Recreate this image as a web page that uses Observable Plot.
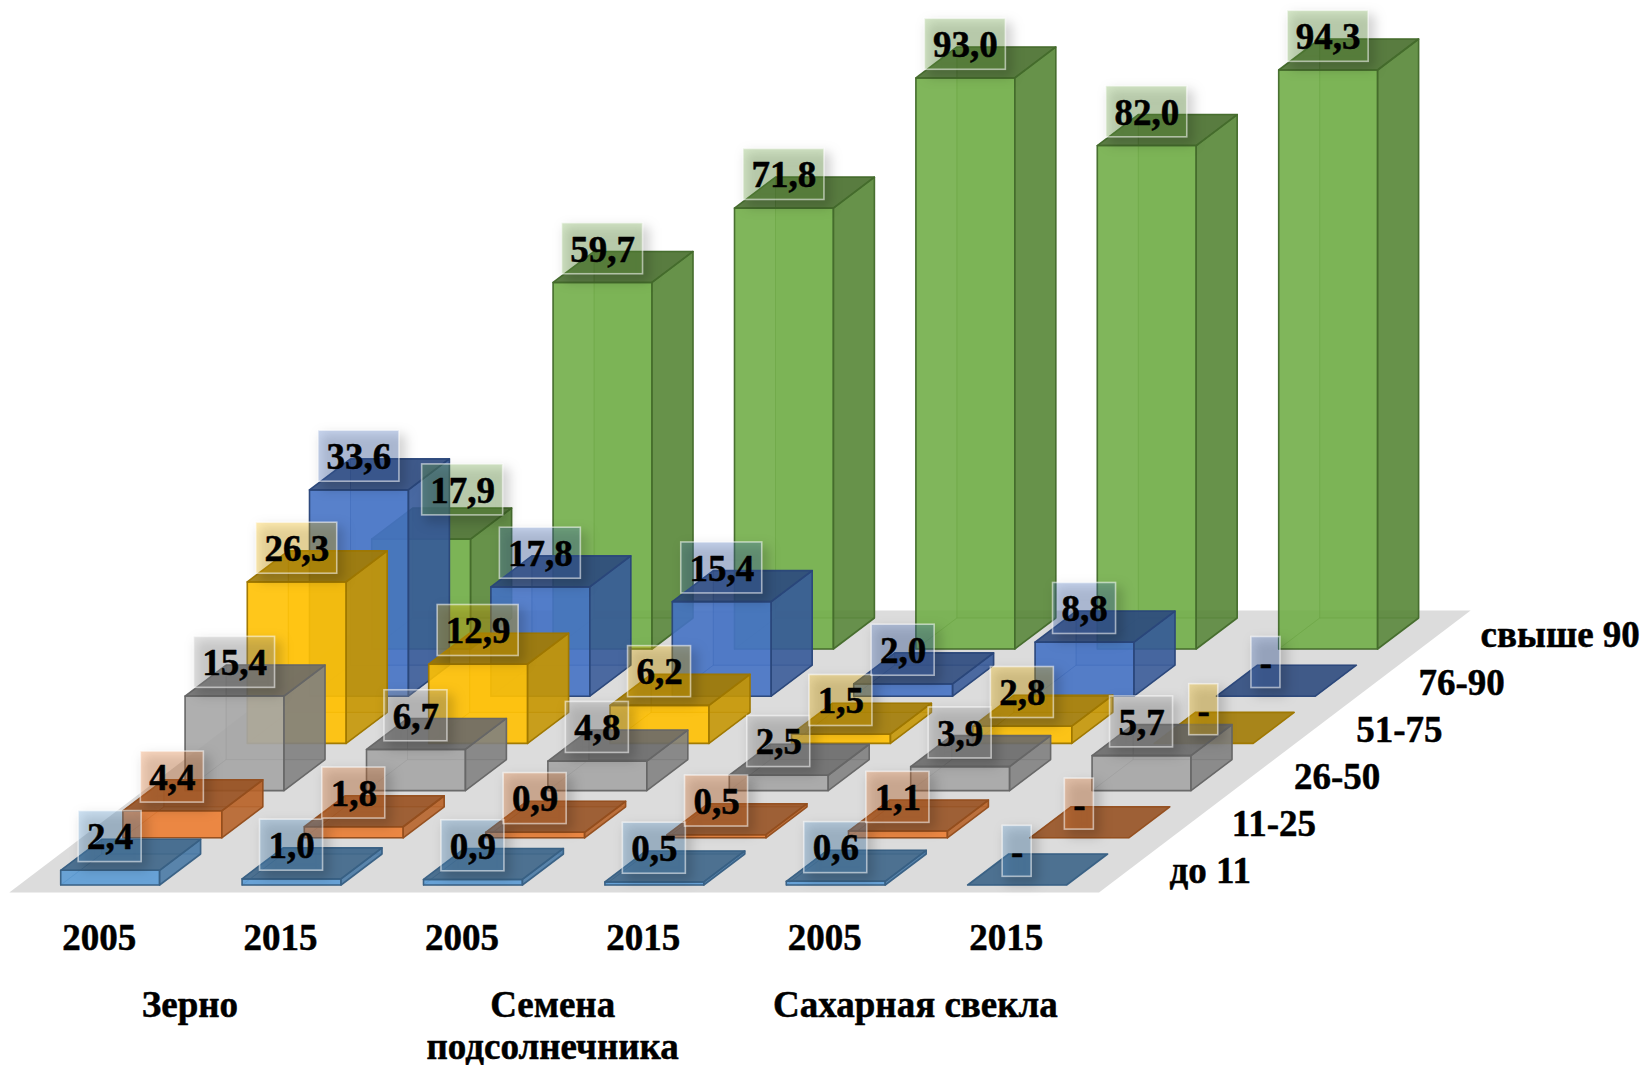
<!DOCTYPE html>
<html lang="ru">
<head>
<meta charset="utf-8">
<style>
html,body{margin:0;padding:0;background:#fff}
svg{display:block}
g[aria-label="rect"] rect{filter:drop-shadow(5px 6px 6px rgba(0,0,0,.55))}
</style>
<script src="https://cdn.jsdelivr.net/npm/d3@7"></script>
<script src="https://cdn.jsdelivr.net/npm/@observablehq/plot@0.6"></script>
</head>
<body>
<div id="chart"></div>
<script>
const years = ["2005","2015","2005","2015","2005","2015"];
const groups = ["Зерно","Семена\nподсолнечника","Сахарная свекла"];
const seriesNames = ["до 11","11-25","26-50","51-75","76-90","свыше 90"];
const seriesColors = ["#5b9bd5","#ed7d31","#a5a5a5","#ffc000","#4472c4","#70ad47"];
const upTo11  = [2.4,1.0,0.9,0.5,0.6,null];
const s11to25 = [4.4,1.8,0.9,0.5,1.1,null];
const s26to50 = [15.4,6.7,4.8,2.5,3.9,5.7];
const s51to75 = [26.3,12.9,6.2,1.5,2.8,null];
const s76to90 = [33.6,17.8,15.4,2.0,8.8,null];
const over90  = [17.9,59.7,71.8,93.0,82.0,94.3];
const seriesValues = [upTo11,s11to25,s26to50,s51to75,s76to90,over90];

// Oblique projection, in chart units: x = category steps, y = percentage points.
const PX_U = 181.4, PX_V = 6.14, ORIGIN_X = 60.2, ORIGIN_Y = 884.5;
const SX = 62.2/PX_U, SY = 47.2/PX_V;   // shift per series
const W = 98.9/PX_U;                    // bar width
const DX = 41/PX_U, DY = 31/PX_V;       // bar depth

const shade = (c,f) => { const r = d3.rgb(c); return d3.rgb(r.r*f,r.g*f,r.b*f).formatHex(); };
const rows = [];
let fid = 0;
function face(pts, fill, fo, stroke, so, sw) {
  const id = fid++;
  [...pts, pts[0]].forEach(([x,y]) => rows.push({id,x,y,fill,fo,stroke,so,sw}));
}

// floor
{
  const l = (8.8-ORIGIN_X)/PX_U, r = (1098.5-ORIGIN_X)/PX_U, b = -7.5/PX_V, d = 282/PX_V, dx = d*SX/SY;
  face([[l,b],[r,b],[r+dx,b+d],[l+dx,b+d]],"#dcdcdc",1,"none",0,0);
}

// bars, far series first
for (let s = 5; s >= 0; s--) {
  const c = seriesColors[s];
  seriesValues[s].forEach((val,i) => {
    const v = val ?? 0;
    const x0 = i + s*SX, y0 = s*SY, x1 = x0+W, y1 = y0+v;
    const edge = shade(c,.62);
    if (v > 0) {
      face([[x0+DX,y0+DY],[x1+DX,y0+DY],[x1+DX,y1+DY],[x0+DX,y1+DY]],c,.4,edge,.4,1);    // back
      face([[x0,y0],[x0+DX,y0+DY],[x0+DX,y1+DY],[x0,y1]],c,.18,edge,.4,1);               // left
    }
    face([[x0,y0],[x1,y0],[x1+DX,y0+DY],[x0+DX,y0+DY]],c,.2,edge,.4,1);                  // bottom
    if (v > 0) {
      face([[x0,y0],[x1,y0],[x1,y1],[x0,y1]],c,.87,edge,.95,1.6);                        // front
      face([[x1,y0],[x1+DX,y0+DY],[x1+DX,y1+DY],[x1,y1]],shade(c,.76),.84,edge,.95,1.6); // right
    }
    face([[x0,y1],[x1,y1],[x1+DX,y1+DY],[x0+DX,y1+DY]],shade(c,.62),.85,edge,.95,1.6);   // top
  });
}

// value labels; the label of the first "свыше 90" bar is pulled clear of the bars in front of it
const labelShift = {"5-0":[41.5/PX_U,15.5/PX_V]};
const boxWidth = {1:29,3:63,4:81};
const labels = [];
seriesValues.forEach((vals,s) => vals.forEach((val,i) => {
  const text = val == null ? "-" : val.toFixed(1).replace(".",",");
  const [nx,ny] = labelShift[`${s}-${i}`] ?? [0,0];
  const xc = i + s*SX + W/2 + nx, yc = s*SY + (val ?? 0) + 33.7/PX_V + ny;
  const w = boxWidth[text.length]/PX_U/2, h = 51/PX_V/2;
  labels.push({text,xc,yc,x1:xc-w,x2:xc+w,y1:yc-h,y2:yc+h,color:seriesColors[s]});
}));

const font = {fontFamily:"'Liberation Serif','Times New Roman',serif",fontWeight:"bold",fontSize:37,fill:"#000",stroke:"#000",strokeWidth:.5};
const yearRows = years.map((t,i) => ({t,x:i+0.212,y:-8.65}));
const groupRows = groups.map((t,i) => ({t,x:i*2+0.712,y:-16.7}));
const seriesRows = seriesNames.map((t,s) => ({t,x:6.113+s*SX,y:2.2+s*SY}));

const chart = Plot.plot({
  width:1644, height:1065,
  margin:0,
  style:{background:"#fff"},
  x:{axis:null,domain:[-ORIGIN_X/PX_U,(1644-ORIGIN_X)/PX_U],range:[0,1644]},
  y:{axis:null,domain:[(ORIGIN_Y-1065)/PX_V,ORIGIN_Y/PX_V],range:[1065,0]},
  color:{type:"identity"},
  marks:[
    Plot.line(rows,{x:"x",y:"y",z:"id",fill:"fill",fillOpacity:"fo",stroke:"stroke",strokeOpacity:"so",strokeWidth:"sw",curve:"linear",strokeLinejoin:"round"}),
    Plot.rect(labels,{x1:"x1",x2:"x2",y1:"y1",y2:"y2",fill:"color",fillOpacity:.3,stroke:"#fff",strokeOpacity:.55,strokeWidth:1.6}),
    Plot.text(labels,{x:"xc",y:"yc",text:"text",...font,lineAnchor:"middle",dy:1}),
    Plot.text(yearRows,{x:"x",y:"y",text:"t",...font,lineAnchor:"middle"}),
    Plot.text(groupRows,{x:"x",y:"y",text:"t",...font,lineAnchor:"top",lineHeight:1.13}),
    Plot.text(seriesRows,{x:"x",y:"y",text:"t",...font,lineAnchor:"middle",textAnchor:"start"})
  ]
});
document.getElementById("chart").appendChild(chart);
</script>
</body>
</html>
